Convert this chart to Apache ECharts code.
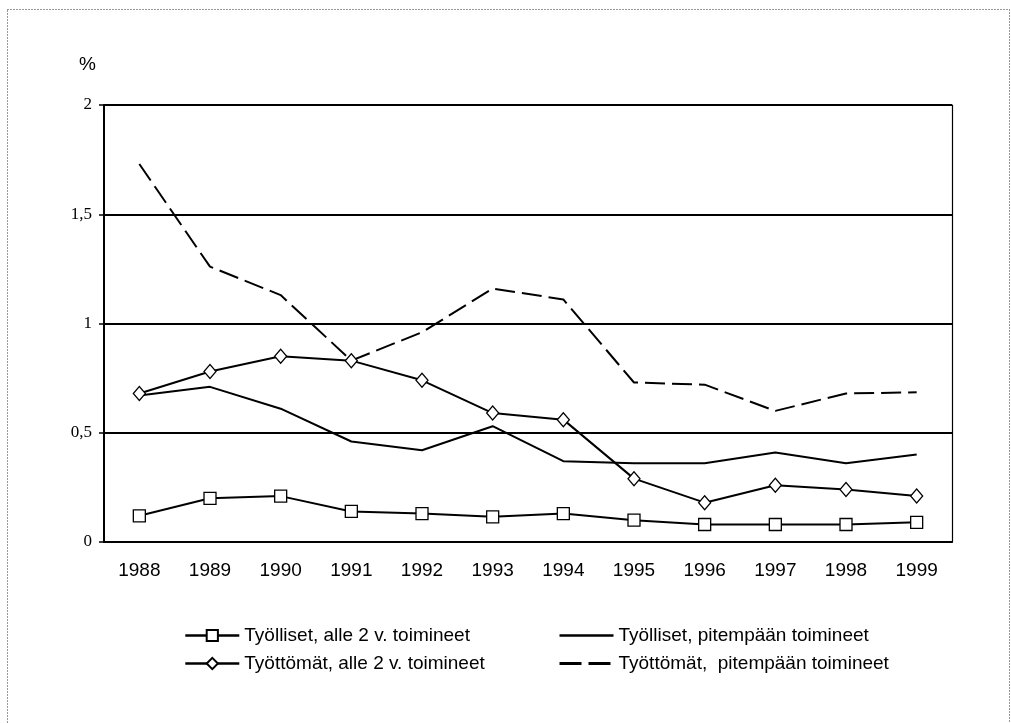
<!DOCTYPE html>
<html>
<head>
<meta charset="utf-8">
<script src="https://cdn.jsdelivr.net/npm/echarts@6/dist/echarts.min.js"></script>
<style>
  html, body { margin: 0; padding: 0; background: #fff; }
  #chart { width: 1011px; height: 723px; }
</style>
</head>
<body>
<div id="chart"></div>
<script>
// vuodet
const years = ["1988", "1989", "1990", "1991", "1992", "1993", "1994", "1995", "1996", "1997", "1998", "1999"];
// Työlliset, alle 2 v. toimineet
const tyollisetAlle2 = [0.12, 0.2, 0.21, 0.14, 0.13, 0.115, 0.13, 0.1, 0.08, 0.08, 0.08, 0.09];
// Työlliset, pitempään toimineet
const tyollisetPitempaan = [0.67, 0.71, 0.61, 0.46, 0.42, 0.53, 0.37, 0.36, 0.36, 0.41, 0.36, 0.4];
// Työttömät, alle 2 v. toimineet
const tyottomatAlle2 = [0.68, 0.78, 0.85, 0.83, 0.74, 0.59, 0.56, 0.29, 0.18, 0.26, 0.24, 0.21];
// Työttömät, pitempään toimineet
const tyottomatPitempaan = [1.73, 1.26, 1.13, 0.83, 0.96, 1.16, 1.11, 0.73, 0.72, 0.6, 0.68, 0.685];
const yTicks = [0, 0.5, 1, 1.5, 2];

const chart = echarts.init(document.getElementById("chart"));

const lineStyle = { color: "#000", width: 2 };
const noSymbol = { color: "transparent", borderColor: "transparent", borderWidth: 0 };
const markerStyle = { color: "#fff", borderColor: "#000", borderWidth: 1.3 };
const legendText = { fontFamily: "Liberation Sans", fontSize: 19, color: "#000" };
const legendLine = { color: "#000", width: 2.6 };

chart.setOption({
  animation: false,
  backgroundColor: "#fff",
  graphic: [
    {
      type: "rect",
      shape: { x: 7.5, y: 9.5, width: 1002, height: 730 },
      style: { fill: "none", stroke: "#333", lineWidth: 1, lineDash: [1, 2] },
      silent: true
    },
    {
      type: "text",
      left: 79,
      top: 55,
      style: { text: "%", font: "19px 'Liberation Sans', Arial, sans-serif", fill: "#000" }
    }
  ],
  legend: [
    {
      left: 184,
      top: 626,
      padding: 0,
      orient: "vertical",
      itemWidth: 54,
      itemHeight: 14,
      itemGap: 9,
      textStyle: legendText,
      lineStyle: legendLine,
      data: [
        { name: "Työlliset, alle 2 v. toimineet", lineStyle: legendLine },
        { name: "Työttömät, alle 2 v. toimineet", lineStyle: legendLine }
      ]
    },
    {
      left: 558,
      top: 626,
      padding: 0,
      orient: "vertical",
      itemWidth: 54,
      itemHeight: 14,
      itemGap: 9,
      textStyle: legendText,
      data: [
        { name: "Työlliset, pitempään toimineet", itemStyle: noSymbol, lineStyle: legendLine },
        { name: "Työttömät,  pitempään toimineet", itemStyle: noSymbol, lineStyle: { color: "#000", width: 3, type: [22, 7] } }
      ]
    }
  ],
  grid: { left: 104, top: 105, right: 59, bottom: 181 },
  xAxis: {
    type: "category",
    data: years,
    boundaryGap: true,
    axisLine: { lineStyle: { color: "#000", width: 2 } },
    axisTick: { length: 6, lineStyle: { color: "#000", width: 1.5 } },
    axisLabel: { color: "#000", fontFamily: "Liberation Sans", fontSize: 19, margin: 19 }
  },
  yAxis: [
    {
      type: "value",
      min: 0,
      max: 2,
      interval: 0.5,
      axisLine: { show: true, lineStyle: { color: "#000", width: 2 } },
      axisTick: { show: true, length: 5, lineStyle: { color: "#000", width: 1.5 } },
      axisLabel: {
        color: "#000",
        fontFamily: "Liberation Serif",
        fontSize: 17,
        margin: 12,
        formatter: v => yTicks.includes(v) ? String(v).replace(".", ",") : ""
      },
      splitLine: { lineStyle: { color: "#000", width: 2 } }
    },
    {
      type: "value",
      min: 0,
      max: 2,
      position: "right",
      axisLine: { show: true, lineStyle: { color: "#000", width: 1.2 } },
      axisTick: { show: false },
      axisLabel: { show: false },
      splitLine: { show: false }
    }
  ],
  series: [
    {
      name: "Työttömät,  pitempään toimineet",
      type: "line",
      data: tyottomatPitempaan,
      symbol: "none",
      lineStyle: { color: "#000", width: 2, type: [20, 7] },
      itemStyle: { color: "#000" }
    },
    {
      name: "Työlliset, pitempään toimineet",
      type: "line",
      data: tyollisetPitempaan,
      symbol: "none",
      lineStyle: lineStyle,
      itemStyle: { color: "#000" }
    },
    {
      name: "Työttömät, alle 2 v. toimineet",
      type: "line",
      data: tyottomatAlle2,
      symbol: "diamond",
      symbolSize: [12, 14],
      lineStyle: lineStyle,
      itemStyle: markerStyle
    },
    {
      name: "Työlliset, alle 2 v. toimineet",
      type: "line",
      data: tyollisetAlle2,
      symbol: "rect",
      symbolSize: 12,
      lineStyle: lineStyle,
      itemStyle: markerStyle
    }
  ]
});
</script>
</body>
</html>
